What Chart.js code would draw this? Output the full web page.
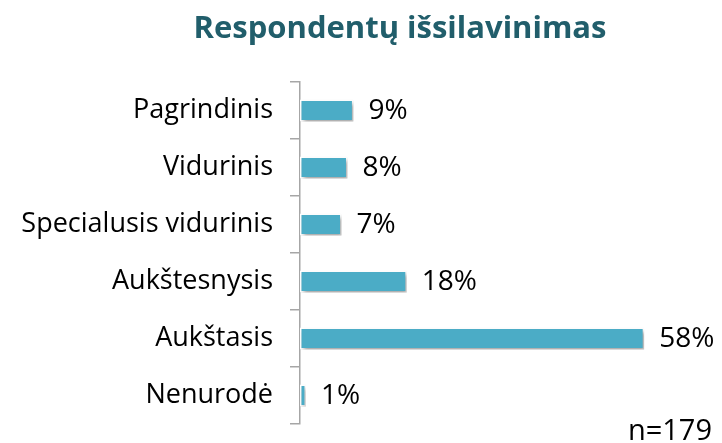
<!DOCTYPE html>
<html>
<head>
<meta charset="utf-8">
<script src="https://cdn.jsdelivr.net/npm/chart.js@4"></script>
<style>
  html, body { margin: 0; padding: 0; background: #fff; }
  #wrap { width: 722px; height: 443px; position: relative; }
</style>
</head>
<body>
<div id="wrap"><canvas id="grafico" width="722" height="443"></canvas></div>
<script>
var kategorijos = ["Pagrindinis", "Vidurinis", "Specialusis vidurinis", "Aukštesnysis", "Aukštasis", "Nenurodė"];
var procentai = [9, 8, 7, 18, 58, 1];
var pavadinimas = "Respondentų išsilavinimas";
var imtis = "n=179";

var sriftas = "'Open Sans', sans-serif";

// pavadinimas ir n piesiami patys
var tekstaiPlugin = {
  id: "tekstai",
  afterDraw: function (chart) {
    var ctx = chart.ctx;
    ctx.save();
    ctx.fillStyle = "#215E6B";
    ctx.font = "bold 31px " + sriftas;
    ctx.textAlign = "center";
    ctx.textBaseline = "alphabetic";
    ctx.fillText(pavadinimas, 400, 38);
    ctx.fillStyle = "#000";
    ctx.font = "29px " + sriftas;
    ctx.textAlign = "right";
    ctx.fillText(imtis, 712, 440);
    ctx.restore();
  }
};

// reiksmes prie stulpeliu galu
var reiksmesPlugin = {
  id: "reiksmes",
  afterDatasetsDraw: function (chart) {
    var ctx = chart.ctx;
    var meta = chart.getDatasetMeta(0);
    ctx.save();
    ctx.fillStyle = "#000";
    ctx.font = "28px " + sriftas;
    ctx.textAlign = "left";
    ctx.textBaseline = "middle";
    meta.data.forEach(function (bar, i) {
      ctx.fillText(procentai[i] + "%", bar.x + 15, bar.y + 1);
    });
    ctx.restore();
  }
};

var seselisPlugin = {
  id: "seselis",
  beforeDatasetsDraw: function (chart) {
    var ctx = chart.ctx;
    ctx.save();
    ctx.shadowColor = "rgba(0,0,0,0.35)";
    ctx.shadowBlur = 4;
    ctx.shadowOffsetX = 2;
    ctx.shadowOffsetY = 3;
  },
  afterDatasetsDraw: function (chart) {
    chart.ctx.restore();
  }
};

function init() {
  var ctx = document.getElementById("grafico").getContext("2d");
  new Chart(ctx, {
    type: "bar",
    data: {
      labels: kategorijos,
      datasets: [{
        data: procentai,
        backgroundColor: "#4BACC6",
        borderColor: "#ffffff",
        borderWidth: 1.5,
        borderSkipped: false,
        categoryPercentage: 1,
        barPercentage: 0.39
      }]
    },
    options: {
      indexAxis: "y",
      responsive: false,
      animation: false,
      layout: { padding: { top: 82, right: 66, bottom: 19, left: 0 } },
      plugins: {
        legend: { display: false },
        title: { display: false },
        tooltip: { enabled: false }
      },
      scales: {
        x: { display: false, min: 0, max: 60 },
        y: {
          afterFit: function (scale) {
            scale.width = 300;
            scale.paddingTop = 0;
            scale.paddingBottom = 0;
          },
          border: { color: "#A6A6A6", width: 1.5 },
          grid: { drawOnChartArea: false, color: "#A6A6A6", lineWidth: 1.5, tickLength: 10, offset: true },
          ticks: { color: "#000", padding: 17, font: { family: "Open Sans", size: 27 } }
        }
      }
    },
    plugins: [seselisPlugin, reiksmesPlugin, tekstaiPlugin]
  });
}
window.addEventListener("DOMContentLoaded", init);
</script>
</body>
</html>
